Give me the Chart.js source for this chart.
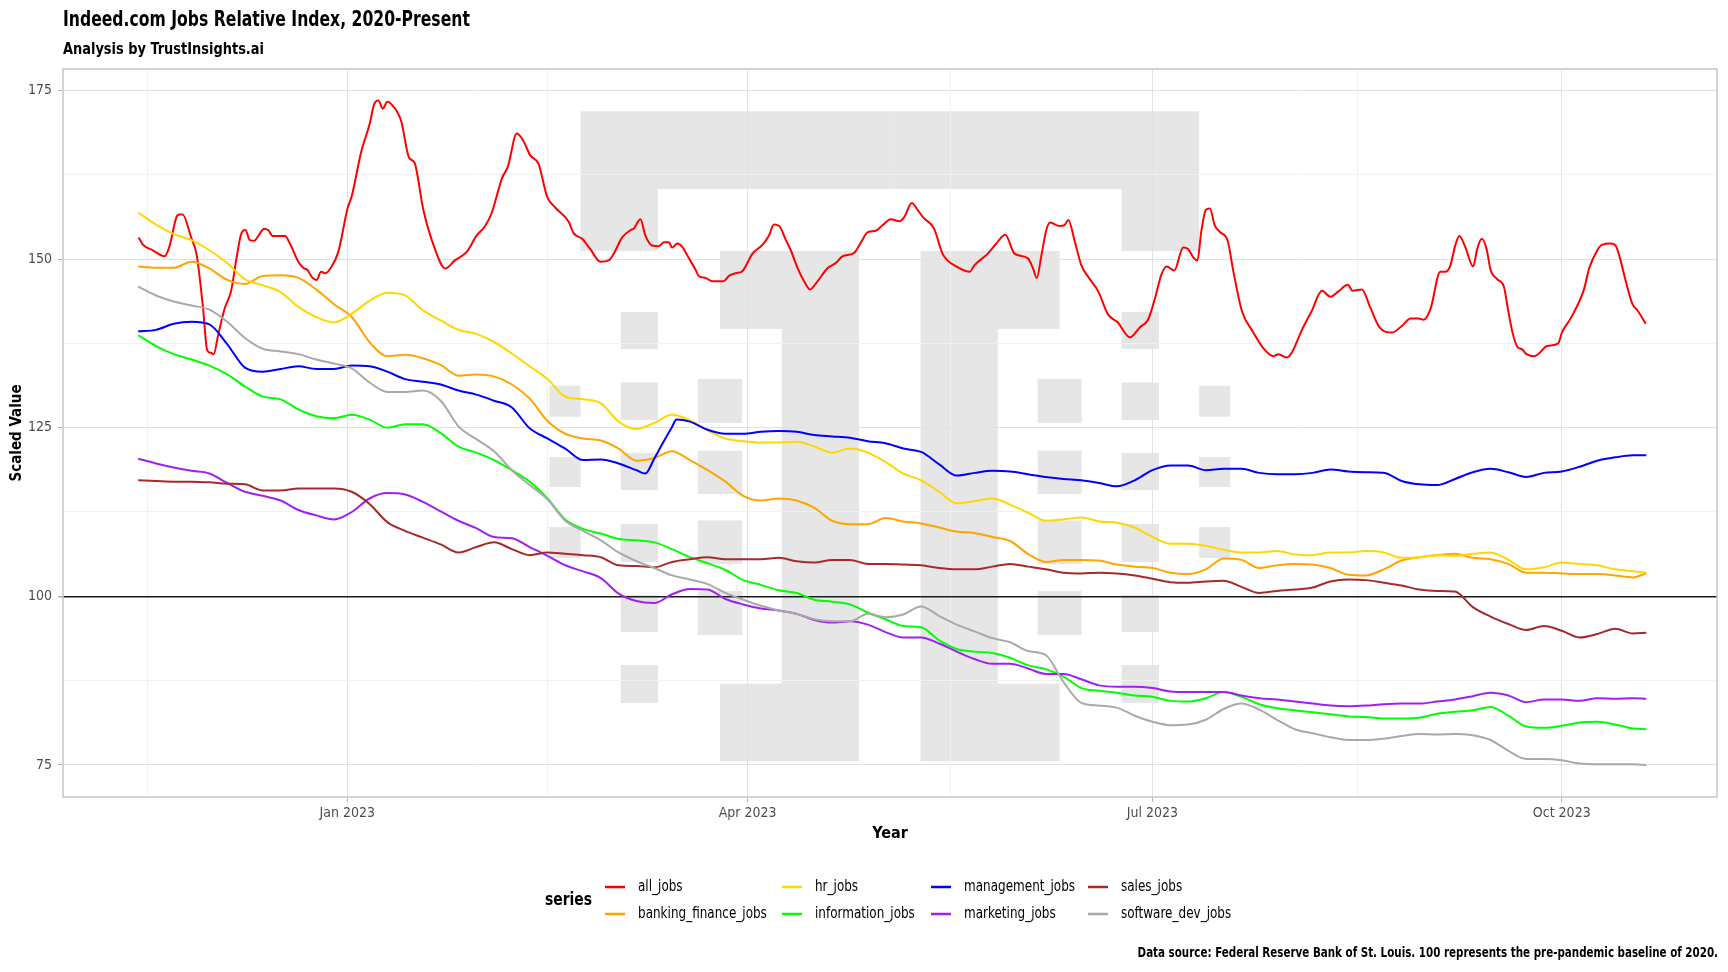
<!DOCTYPE html>
<html>
<head>
<meta charset="utf-8">
<title>Indeed.com Jobs Relative Index</title>
<script src="https://cdn.jsdelivr.net/npm/chart.js@4.4.1/dist/chart.umd.min.js"></script>
<style>
  html, body { margin: 0; padding: 0; background: #ffffff; }
  #wrap { width: 1728px; height: 972px; }
</style>
</head>
<body>
<div id="wrap"><canvas id="jobs-chart" width="1728" height="972"></canvas></div>
<script>
// x values are days counted from 2023-01-01 (day 0)
const days = [-47, -43, -39, -35, -31, -27, -23, -19, -15, -11, -7, -3, 1, 5, 9, 13, 17, 21, 25, 29, 33, 37, 41, 45,
  49, 53, 57, 61, 65, 69, 73, 77, 81, 85, 89, 93, 97, 101, 105, 109, 113, 117, 121, 125, 129, 133, 137, 141,
  145, 149, 153, 157, 161, 165, 169, 173, 177, 181, 185, 189, 193, 197, 201, 205, 209, 213, 217, 221, 225, 229, 233, 237,
  241, 245, 249, 253, 257, 261, 265, 269, 273, 277, 281, 285, 289, 292];

// all_jobs is spikier, so it keeps its own denser day list
const allJobsDays = [-46.9, -45.9, -43.7, -41.1, -40.0, -38.4, -37.7, -37.0, -35.1, -33.9, -33.2, -32.4, -31.5, -30.7, -30.0, -29.1,
  -27.6, -26.1, -24.9, -23.9, -22.9, -21.9, -20.9, -19.9, -18.7, -17.8, -16.7, -14.0, -12.9, -11.0, -9.9, -9.0, -7.8, -6.9,
  -5.9, -4.9, -3.7, -2.0, 0.1, 1.0, 3.1, 5.1, 6.0, 7.0, 8.0, 9.0, 10.0, 12.1, 13.9, 15.1, 17.1, 19.7, 22.0, 24.2, 26.9,
  29.1, 31.0, 32.5, 34.8, 36.1, 38.1, 39.6, 41.1, 43.0, 44.9, 46.8,
  49.8, 50.9, 52.8, 54.6, 56.9, 58.8, 59.9, 61.8, 63.7, 64.4, 65.9, 67.0, 68.5, 70.0, 71.2, 72.3, 73.0, 74.2, 75.3, 76.8,
  78.3, 79.0, 80.5, 82.1, 84.6, 85.8, 87.3, 88.8, 91.1, 93.3, 94.8, 95.9, 97.1, 98.6, 99.7, 101.2, 102.7, 104.0, 105.7,
  107.9, 109.8, 111.3, 113.9, 115.5, 117.0, 118.8, 120.3, 122.2, 124.1, 125.2, 126.9, 128.2, 129.4, 131.9, 133.8, 134.9,
  136.9, 139.9, 141.0, 144.0, 145.9, 147.9, 150.0, 153.0, 154.1, 155.0, 156.0, 157.1, 158.0, 160.1, 161.2, 162.1, 163.5,
  165.0, 166.5, 168.8, 171.0, 173.2, 175.9, 178.2, 180.0, 181.5, 183.0, 184.2, 185.9, 187.9, 189.0, 190.2, 191.1, 192.0,
  193.0, 193.9, 195.0, 196.2, 197.9, 199.2, 201.1, 203.6, 205.9, 208.2, 209.3, 211.2, 212.3, 214.6, 216.8, 219.1,
  221.0, 222.8, 224.9, 226.0, 228.1, 229.9, 232.0, 234.8, 237.1, 239.0, 240.8, 242.0, 243.5, 245.7, 246.8, 247.9, 249.1,
  250.0, 251.3, 253.1, 254.0, 255.0, 256.1, 257.0, 258.5, 260.0, 260.9, 261.9, 263.0, 264.1, 265.1, 266.9, 267.9, 269.7,
  272.2, 273.1, 275.0, 278.0, 279.2, 281.0, 282.0, 284.0, 285.2, 286.1, 287.4, 288.9, 290.0, 291.9];
const allJobs = [153.2, 152.1, 151.3, 150.4, 151.8, 156.2, 156.6, 156.6, 153.2, 150.8, 147.4, 142.6, 136.5, 136.1, 135.9, 138.5,
  142.6, 145.3, 150.1, 153.6, 154.3, 152.8, 152.7, 153.5, 154.5, 154.3, 153.4, 153.4, 152.3, 149.6, 148.7, 148.4, 147.2, 146.9,
  148.1, 147.9, 148.7, 151.1, 157.6, 159.3, 165.8, 170.2, 172.9, 173.5, 172.3, 173.3, 172.9, 170.5, 165.0, 164.3, 157.3, 151.5, 148.6, 149.8, 151.1,
  153.5, 154.9, 156.9, 162.0, 163.7, 168.6, 167.5, 165.4, 164.1, 159.3, 157.6,
  155.5, 153.8, 153.0, 151.5, 149.6, 149.8, 150.8, 153.2, 154.3, 154.5, 155.9, 153.5, 152.0, 151.9, 152.5, 152.5, 151.7, 152.3, 151.8, 150.1,
  148.4, 147.5, 147.2, 146.7, 146.7, 147.5, 147.9, 148.2, 150.8, 152.1, 153.5, 155.1, 154.9, 152.8, 151.3, 148.7, 146.7, 145.5, 146.7,
  148.6, 149.4, 150.4, 150.9, 152.5, 154.0, 154.2, 155.0, 155.9, 155.6, 156.2, 158.3, 157.3, 156.2, 154.5, 150.8, 149.8,
  148.9, 148.1, 149.1, 150.8, 152.3, 153.6, 150.8, 150.1, 148.7, 147.2, 150.4, 154.2, 155.4, 154.9, 155.0, 155.8, 152.7,
  149.1, 147.4, 145.2, 141.8, 140.6, 138.4, 139.9, 141.0, 144.0, 147.7, 148.9, 148.3, 151.7, 151.5, 150.2, 149.8, 154.2,
  157.3, 157.5, 155.0, 154.0, 152.7, 148.1, 142.3, 139.2, 136.8, 135.6, 135.9, 135.4, 136.1, 139.5, 142.3, 145.3,
  144.4, 145.2, 146.2, 145.3, 145.5, 142.9, 139.9, 139.1, 140.1, 141.2, 141.2, 141.0, 142.6, 148.1, 148.1, 148.9, 152.1,
  153.4, 151.8, 148.9, 151.5, 153.0, 151.5, 148.4, 147.0, 145.9, 142.6, 139.2, 137.0, 136.6, 135.9, 135.6, 136.0, 137.1,
  137.5, 139.2, 141.2, 145.5, 148.7, 151.3, 152.1, 152.3, 151.9, 150.1, 146.7, 143.3, 142.4, 140.4];

// management_jobs has a sharp V in mid-March, so a few extra days there
const managementDays = [-47, -43, -39, -35, -31, -27, -23, -19, -15, -11, -7, -3, 1, 5, 9, 13, 17, 21, 25, 29, 33, 37, 41, 45,
  49, 53, 57, 61, 65, 67, 69, 71, 73, 74, 77, 81, 85, 89, 93, 97, 101, 105, 109, 113, 117, 121, 125, 129, 133, 137, 141,
  145, 149, 153, 157, 161, 165, 169, 173, 177, 181, 185, 189, 193, 197, 201, 205, 209, 213, 217, 221, 225, 229, 233, 237,
  241, 245, 249, 253, 257, 261, 265, 269, 273, 277, 281, 285, 289, 292];
const managementJobs = [139.3, 139.5, 140.4, 140.7, 140.3, 137.4, 133.9, 133.3, 133.7, 134.1, 133.7, 133.7, 134.2, 134.1, 133.3, 132.2, 131.8, 131.4, 130.5, 129.9, 129.0, 128.0, 124.9, 123.4,
  121.9, 120.2, 120.3, 119.7, 118.7, 118.2, 120.4, 122.8, 125.1, 126.2, 125.9, 124.7, 124.1, 124.1, 124.4, 124.5, 124.4, 123.9, 123.7, 123.5, 123.0, 122.7, 121.9, 121.4, 119.6, 117.9, 118.3,
  118.6, 118.5, 118.1, 117.7, 117.4, 117.2, 116.8, 116.3, 117.2, 118.7, 119.4, 119.4, 118.7, 118.9, 118.9, 118.3, 118.1, 118.1, 118.3, 118.8, 118.5, 118.4, 118.3, 117.1,
  116.6, 116.5, 117.4, 118.4, 118.9, 118.4, 117.7, 118.3, 118.5, 119.2, 120.1, 120.6, 120.9, 120.9];

const bankingFinanceJobs = [148.9, 148.7, 148.7, 149.6, 148.6, 146.9, 146.3, 147.5, 147.6, 147.2, 145.5, 143.3, 141.4, 137.7, 135.6, 135.8, 135.3, 134.3, 132.7, 132.9, 132.6, 131.4, 129.3, 126.0,
  124.1, 123.4, 123.1, 121.9, 120.1, 120.5, 121.5, 120.2, 118.7, 117.0, 114.9, 114.2, 114.5, 114.2, 113.1, 111.2, 110.7, 110.7, 111.6, 111.1, 110.8, 110.2, 109.6, 109.4,
  108.8, 108.2, 106.3, 105.1, 105.4, 105.4, 105.3, 104.7, 104.4, 104.2, 103.5, 103.3, 104.0, 105.6, 105.4, 104.2, 104.6, 104.8, 104.7, 104.2, 103.2, 103.1, 104.0, 105.3,
  105.8, 106.1, 106.3, 105.7, 105.5, 104.8, 103.5, 103.5, 103.4, 103.3, 103.3, 103.1, 102.8, 103.4];
const hrJobs = [156.9, 155.1, 153.7, 152.8, 151.3, 149.4, 147.0, 146.1, 145.1, 142.9, 141.4, 140.6, 141.9, 143.8, 145.0, 144.6, 142.4, 140.9, 139.5, 138.9, 137.7, 136.0, 134.1, 132.2,
  129.6, 129.2, 128.6, 125.9, 124.8, 125.7, 126.9, 126.1, 124.6, 123.4, 123.0, 122.8, 122.8, 122.9, 122.2, 121.3, 121.9, 121.3, 119.9, 118.2, 117.2, 115.5, 113.8, 114.1,
  114.5, 113.6, 112.4, 111.2, 111.4, 111.7, 111.1, 110.9, 110.2, 108.8, 107.8, 107.8, 107.5, 106.9, 106.5, 106.5, 106.7, 106.2, 106.1, 106.5, 106.5, 106.7, 106.5, 105.7,
  105.8, 106.1, 106.0, 106.3, 106.5, 105.4, 104.0, 104.3, 105.0, 104.8, 104.6, 104.0, 103.7, 103.5];
const informationJobs = [138.7, 137.1, 135.9, 135.1, 134.2, 132.9, 131.1, 129.6, 129.2, 127.7, 126.7, 126.4, 126.9, 126.2, 125.0, 125.5, 125.5, 124.2, 122.2, 121.3, 120.2, 118.7, 117.0, 114.5,
  111.4, 110.0, 109.3, 108.5, 108.3, 108.0, 107.0, 105.8, 104.9, 103.9, 102.4, 101.7, 100.9, 100.5, 99.5, 99.2, 98.8, 97.6, 96.6, 95.6, 95.4, 93.5, 92.2, 91.8,
  91.6, 90.9, 89.8, 89.2, 88.1, 86.4, 86.0, 85.7, 85.3, 85.1, 84.5, 84.4, 84.9, 85.8, 85.1, 84.0, 83.4, 83.1, 82.8, 82.5, 82.2, 82.1, 81.9, 81.9,
  82.0, 82.6, 82.9, 83.1, 83.6, 82.3, 80.7, 80.5, 80.8, 81.3, 81.4, 81.0, 80.4, 80.3];
const marketingJobs = [120.4, 119.7, 119.1, 118.6, 118.2, 116.8, 115.5, 114.9, 114.2, 112.8, 112.0, 111.4, 112.5, 114.5, 115.3, 115.1, 114.0, 112.6, 111.2, 110.1, 108.8, 108.6, 107.3, 106.0,
  104.6, 103.7, 102.7, 100.4, 99.3, 99.0, 100.3, 101.1, 101.0, 99.6, 98.8, 98.2, 97.9, 97.4, 96.5, 96.1, 96.3, 95.8, 94.7, 93.9, 93.9, 93.0, 91.8, 90.7,
  90.0, 90.0, 89.3, 88.5, 88.5, 87.7, 86.8, 86.6, 86.6, 86.4, 85.9, 85.8, 85.8, 85.8, 85.3, 84.9, 84.7, 84.4, 84.1, 83.8, 83.7, 83.8, 84.0, 84.1,
  84.1, 84.4, 84.7, 85.2, 85.7, 85.3, 84.3, 84.7, 84.7, 84.5, 84.9, 84.8, 84.9, 84.8];
const salesJobs = [117.2, 117.1, 117.0, 117.0, 116.9, 116.7, 116.6, 115.7, 115.7, 116.0, 116.0, 116.0, 115.5, 113.7, 111.0, 109.7, 108.7, 107.7, 106.5, 107.3, 108.0, 107.0, 106.1, 106.5,
  106.3, 106.1, 105.8, 104.6, 104.5, 104.3, 105.1, 105.5, 105.8, 105.5, 105.5, 105.5, 105.7, 105.2, 105.0, 105.4, 105.4, 104.8, 104.8, 104.7, 104.6, 104.2, 104.0, 104.0,
  104.4, 104.8, 104.4, 104.0, 103.5, 103.4, 103.5, 103.4, 103.1, 102.6, 102.1, 102.0, 102.2, 102.3, 101.4, 100.5, 100.8, 101.0, 101.3, 102.2, 102.5, 102.4, 102.0, 101.6,
  101.0, 100.8, 100.7, 98.4, 97.0, 95.9, 95.0, 95.6, 94.9, 93.9, 94.4, 95.2, 94.5, 94.6];
const softwareDevJobs = [145.9, 144.6, 143.7, 143.1, 142.5, 140.7, 138.3, 136.7, 136.3, 135.9, 135.1, 134.5, 133.8, 131.7, 130.3, 130.3, 130.5, 129.0, 125.2, 123.3, 121.5, 118.7, 116.5, 114.4,
  111.2, 109.7, 108.3, 106.5, 105.2, 104.2, 103.1, 102.5, 101.8, 100.5, 99.5, 98.6, 97.9, 97.4, 96.6, 96.3, 96.3, 97.4, 96.9, 97.3, 98.5, 97.1, 95.8, 94.8,
  93.8, 93.2, 91.9, 91.3, 87.3, 84.2, 83.8, 83.5, 82.3, 81.4, 80.9, 81.0, 81.7, 83.3, 84.1, 83.2, 81.7, 80.3, 79.7, 79.1, 78.7, 78.7, 78.9, 79.3,
  79.6, 79.5, 79.6, 79.4, 78.7, 77.1, 75.9, 75.9, 75.7, 75.2, 75.1, 75.1, 75.1, 75.0];

const seriesNames = ['all_jobs', 'banking_finance_jobs', 'hr_jobs', 'information_jobs',
  'management_jobs', 'marketing_jobs', 'sales_jobs', 'software_dev_jobs'];
const seriesColors = ['#FF0000', '#FFA500', '#FFD700', '#00FF00', '#0000FF', '#A020F0', '#A52A2A', '#A9A9A9'];

const xTickDays = [0, 90, 181, 273];
const xTickLabels = ['Jan 2023', 'Apr 2023', 'Jul 2023', 'Oct 2023'];
const xMinorDays = [-45, 45, 135.5, 227];
const yTickValues = [75, 100, 125, 150, 175];
const yMinorValues = [87.5, 112.5, 137.5, 162.5];
const baseline = 100;

const FONT = '"Liberation Sans Narrow", "DejaVu Sans Condensed", "Roboto Condensed", "Liberation Sans", sans-serif';

function toPoints(xs, ys) {
  return ys.map((y, i) => ({ x: xs[i], y: y }));
}

const seriesValues = [allJobs, bankingFinanceJobs, hrJobs, informationJobs,
  managementJobs, marketingJobs, salesJobs, softwareDevJobs];
const seriesDays = [allJobsDays, days, days, days, managementDays, days, days, days];

const datasets = seriesNames.map((name, i) => ({
  label: name,
  data: toPoints(seriesDays[i], seriesValues[i]),
  borderColor: seriesColors[i],
  backgroundColor: seriesColors[i],
  borderWidth: 2,
  pointRadius: 0,
  cubicInterpolationMode: 'monotone',
  order: seriesNames.length - i   // ggplot draws later groups on top
}));

// TI watermark, in panel pixels (left half; mirrored for the right half)
const WM_W = 1654, WM_H = 728, WM_MID = 826.8;
const watermarkHalf = [
  [517.5, 42.3, 309.3, 77.7], [517.5, 120, 77.5, 62],
  [657, 182, 139, 78], [718.7, 260, 77.3, 354.7], [657, 614.7, 139, 77.7],
  [486.3, 316.7, 31.2, 31], [486.3, 388, 31.2, 30], [486.3, 458, 31.2, 31],
  [557.7, 243, 37.3, 37], [557.7, 313.5, 37.3, 37.5], [557.7, 384, 37.3, 37],
  [557.7, 455, 37.3, 38], [557.7, 526, 37.3, 37], [557.7, 596, 37.3, 38],
  [635, 310, 44, 44], [635, 381.6, 44, 43.4], [635, 451.5, 44, 43.5], [635, 522, 44, 44]
];

// text squeezed sideways to get closer to the narrow font of the original
function narrowText(ctx, text, x, y, font, squeeze, align) {
  ctx.save();
  ctx.font = font;
  ctx.textAlign = align || 'left';
  ctx.translate(x, y);
  ctx.scale(squeeze, 1);
  ctx.fillText(text, 0, 0);
  ctx.restore();
}

const decorPlugin = {
  id: 'decor',
  beforeDraw(chart) {
    const { ctx, chartArea: a } = chart;
    ctx.save();
    ctx.fillStyle = '#ffffff';
    ctx.fillRect(0, 0, chart.width, chart.height);
    const sx = a.width / WM_W, sy = a.height / WM_H;
    ctx.fillStyle = '#e6e6e6';
    watermarkHalf.forEach(r => {
      ctx.fillRect(a.left + r[0] * sx, a.top + r[1] * sy, r[2] * sx, r[3] * sy);
      const mx = 2 * WM_MID - r[0] - r[2];
      ctx.fillRect(a.left + mx * sx, a.top + r[1] * sy, r[2] * sx, r[3] * sy);
    });
    ctx.restore();
  },
  afterDraw(chart) {
    const { ctx, chartArea: a } = chart;
    ctx.save();
    // panel border
    ctx.strokeStyle = '#c6c6c6';
    ctx.lineWidth = 1.5;
    ctx.strokeRect(a.left, a.top, a.width, a.height);

    // title + subtitle
    ctx.fillStyle = '#000000';
    ctx.textBaseline = 'alphabetic';
    narrowText(ctx, 'Indeed.com Jobs Relative Index, 2020-Present', 63, 26, 'bold 22px ' + FONT, 0.79);
    narrowText(ctx, 'Analysis by TrustInsights.ai', 63, 53.5, 'bold 16px ' + FONT, 0.9);

    // legend, 2 rows filled column by column like ggplot
    const keyX = [605, 782, 931, 1088];
    const rowY = [887, 914];
    ctx.textBaseline = 'middle';
    narrowText(ctx, 'series', 545, 901, 'bold 17px ' + FONT, 0.91);
    chart.data.datasets.forEach((ds, i) => {
      const x = keyX[Math.floor(i / 2)];
      const y = rowY[i % 2];
      ctx.strokeStyle = ds.borderColor;
      ctx.lineWidth = 2.5;
      ctx.beginPath();
      ctx.moveTo(x, y);
      ctx.lineTo(x + 20, y);
      ctx.stroke();
      ctx.fillStyle = '#000000';
      narrowText(ctx, ds.label, x + 33, y, '15px ' + FONT, 0.89);
    });

    // caption
    ctx.textBaseline = 'alphabetic';
    narrowText(ctx, 'Data source: Federal Reserve Bank of St. Louis. 100 represents the pre-pandemic baseline of 2020.',
      1718, 957, 'bold 14px ' + FONT, 0.82, 'right');
    ctx.restore();
  }
};

const canvas = document.getElementById('jobs-chart');
const ctx = canvas.getContext('2d');

const jobsChart = new Chart(ctx, {
  type: 'line',
  data: { datasets: datasets },
  options: {
    responsive: false,
    animation: false,
    devicePixelRatio: 1,
    layout: { padding: { top: 69, right: 11, bottom: 129, left: 0 } },
    plugins: {
      legend: { display: false },
      tooltip: { enabled: false }
    },
    scales: {
      x: {
        type: 'linear',
        min: -63.9,
        max: 307.9,
        bounds: 'data',
        afterBuildTicks: (scale) => {
          scale.ticks = xMinorDays.concat(xTickDays).sort((a, b) => a - b).map(v => ({ value: v }));
        },
        afterFit: (scale) => { scale.height = 46; },
        ticks: {
          autoSkip: false,
          maxRotation: 0,
          padding: 3,
          color: '#4d4d4d',
          font: { family: FONT, size: 14 },
          callback: (v) => {
            const i = xTickDays.indexOf(v);
            return i >= 0 ? xTickLabels[i] : '';
          }
        },
        grid: {
          color: (c) => xTickDays.includes(c.tick.value) ? '#e2e2e2' : '#f1f1f1',
          lineWidth: 1,
          tickLength: 5,
          tickColor: (c) => xTickDays.includes(c.tick.value) ? '#b3b3b3' : 'rgba(0,0,0,0)'
        },
        border: { display: false },
        title: {
          display: true,
          text: 'Year',
          color: '#000000',
          font: { family: FONT, size: 16, weight: 'bold' },
          padding: 0
        }
      },
      y: {
        type: 'linear',
        min: 70.25,
        max: 178.17,
        bounds: 'data',
        afterBuildTicks: (scale) => {
          scale.ticks = yMinorValues.concat(yTickValues).sort((a, b) => a - b).map(v => ({ value: v }));
        },
        afterFit: (scale) => { scale.width = 63; },
        ticks: {
          autoSkip: false,
          padding: 6,
          color: '#4d4d4d',
          font: { family: FONT, size: 14 },
          callback: (v) => yTickValues.includes(v) ? String(v) : ''
        },
        grid: {
          color: (c) => c.tick.value === baseline ? '#1a1a1a'
            : (yTickValues.includes(c.tick.value) ? '#e2e2e2' : '#f1f1f1'),
          lineWidth: (c) => c.tick.value === baseline ? 1.6 : 1,
          tickLength: 5,
          tickColor: (c) => yTickValues.includes(c.tick.value) ? '#b3b3b3' : 'rgba(0,0,0,0)'
        },
        border: { display: false },
        title: {
          display: true,
          text: 'Scaled Value',
          color: '#000000',
          font: { family: FONT, size: 15, weight: 'bold' },
          padding: { top: 8, bottom: 0 }
        }
      }
    }
  },
  plugins: [decorPlugin]
});
</script>
</body>
</html>
